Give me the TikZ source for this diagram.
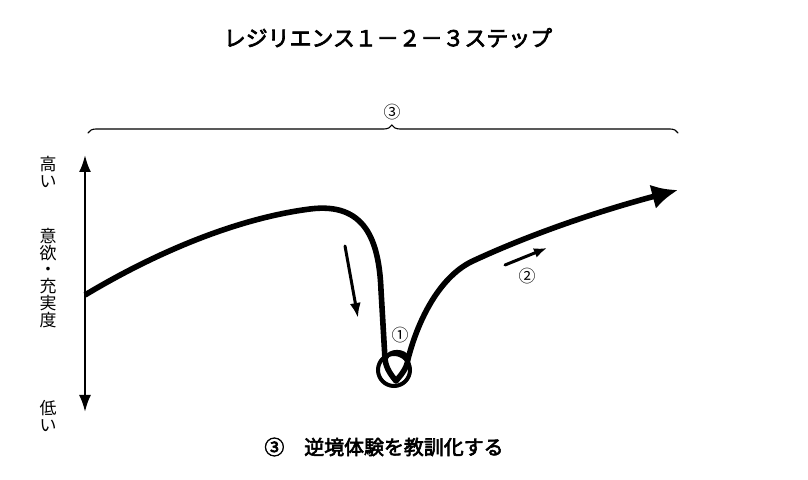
\documentclass[tikz,border=0pt]{standalone}
\usepackage{fontspec}
\newfontfamily\jp{Noto Sans CJK JP}
\newfontfamily\jpmed{Noto Sans CJK JP}[FakeBold=3]
\usetikzlibrary{arrows.meta,positioning,decorations.pathreplacing}

\begin{document}
\begin{tikzpicture}[x=1bp,y=1bp,line cap=round,
  every node/.style={font=\jp, inner sep=0pt},
  side/.style={align=center, font=\jp\fontsize{17}{17}\selectfont},
  num/.style={font=\jp\fontsize{17}{17}\selectfont},
  curve/.style={line width=5.6bp, line cap=butt, line join=round}]
  \useasboundingbox (0,0) rectangle (808,480);
  % title and caption
  \node (title)   at (388,442) {\jpmed\fontsize{22}{22}\selectfont レジリエンス１－２－３ステップ};
  \node (caption) at (384,33)  {\jpmed\fontsize{20}{20}\selectfont ③　逆境体験を教訓化する};
  % brace over the whole course
  \coordinate (bl) at (88,347);
  \coordinate (br) at (678,347);
  \draw[line width=1.1bp, decorate, decoration={brace, amplitude=8bp, aspect=0.515}] (bl) -- (br);
  \node[num] (three) at (392,368) {③};
  % axis
  \coordinate (top) at (85,325);
  \coordinate (bot) at (85,68);
  \draw[line width=2.4bp, {Latex[length=17bp,width=12bp]}-{Latex[length=17bp,width=12bp]}] (bot) -- (top);
  \node[side] (high)  at (48,308) {高\\い};
  \node[side] (level) at (48,202) {意\\欲\\・\\充\\実\\度};
  \node[side] (low)   at (48,64)  {低\\い};
  % course of the curve
  \coordinate (start) at (85,185);
  \coordinate (tip)   at (396,99);
  \coordinate (goal)  at (678,290);
  \draw[curve, -{Latex[length=26bp,width=25bp]}] (start)
    .. controls (160,230) and (240,262) .. (310,271)
    .. controls (365,278) and (379,240) .. (381,190)
    -- (385,121)
    .. controls (386,111) and (392,104) .. (tip)
    .. controls (400,104) and (407,111) .. (408,121)
    .. controls (418,160) and (440,205) .. (475,220)
    .. controls (540,250) and (610,272) .. (goal);
  \draw[curve, line width=4.2bp] (386,122) .. controls (390,130) and (404,130) .. (408,122);
  \node[draw, circle, line width=4bp, minimum size=32bp] (hole) at (394,110) {};
  % step arrows
  \coordinate (fallA) at (345,234);
  \coordinate (fallB) at (358,162);
  \draw[line width=3bp, -{Latex[length=15bp,width=11bp]}] (fallA) -- (fallB);
  \coordinate (riseA) at (505,215);
  \coordinate (riseB) at (547,232);
  \draw[line width=3bp, -{Latex[length=13bp,width=10bp]}] (riseA) -- (riseB);
  \node[num] (one) at (400,145) {①};
  \node[num] (two) at (527,204) {②};
\end{tikzpicture}
\end{document}
